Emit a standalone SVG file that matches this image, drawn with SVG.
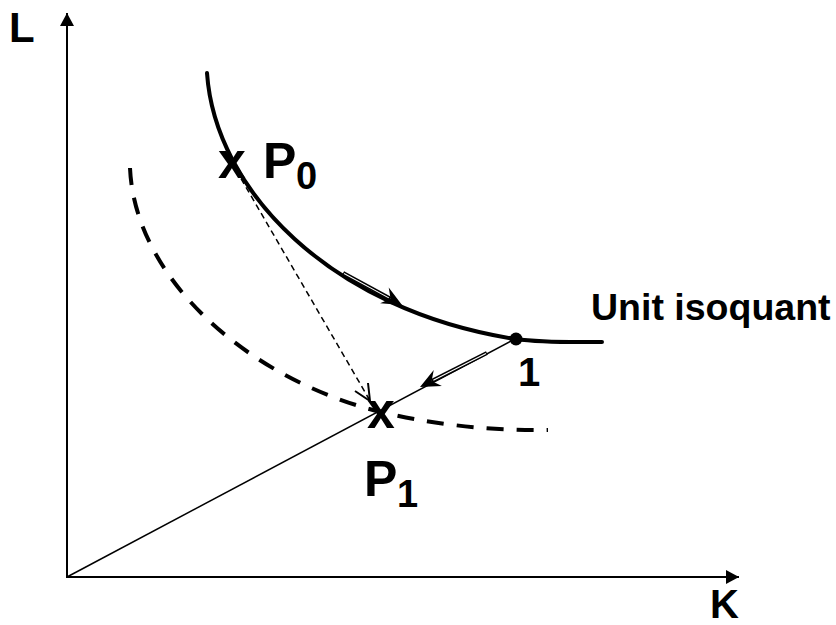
<svg xmlns="http://www.w3.org/2000/svg" width="836" height="625" viewBox="0 0 836 625">
<style>
  .lbl { font-family: "Liberation Sans", Arial, sans-serif; font-weight: bold; fill: #000; }
  .axis { stroke: #000; stroke-width: 2; fill: none; }
  .curve { stroke: #000; stroke-width: 4; fill: none; stroke-linecap: round; }
  .dcurve { stroke: #000; stroke-width: 4; fill: none; stroke-dasharray: 17 13; }
  .thin { stroke: #000; stroke-width: 1.5; fill: none; }
  .dthin { stroke: #000; stroke-width: 1.5; fill: none; stroke-dasharray: 6 4; }
</style>
<defs>
  <marker id="axhead" markerWidth="14" markerHeight="14" refX="13" refY="7" orient="auto" markerUnits="userSpaceOnUse">
    <path d="M0,0 L13,7 L0,14 Z" fill="#000"/>
  </marker>
  <path id="stealth" d="M0,0 L-20,-9 L-13,0 L-20,9 Z" fill="#000"/>
</defs>
<rect width="836" height="625" fill="#fff"/>
<g id="axes">
  <line class="axis" x1="67" y1="577" x2="67" y2="13" marker-end="url(#axhead)"/>
  <line class="axis" x1="66" y1="577" x2="739" y2="577" marker-end="url(#axhead)"/>
  <text class="lbl" x="9" y="42" font-size="42">L</text>
  <text class="lbl" x="710" y="618" font-size="40">K</text>
</g>
<g id="unit-isoquant">
  <path class="curve" d="M207,73 C215,190 330,310 515,339 C545,343 575,342 602,342"/>
  <text class="lbl" x="591" y="320" font-size="37.5">Unit isoquant</text>
</g>
<g id="isoquant-dashed">
  <path class="dcurve" d="M130,168 C135,280 250,380 381,412 C430,424 490,431 548,430"/>
</g>
<g id="connectors">
  <line class="thin" x1="67" y1="577" x2="515" y2="339"/>
  <line class="dthin" x1="236" y1="170" x2="369" y2="399"/>
  <path d="M355,391 L370,401 L368,383" stroke="#000" stroke-width="2" fill="none"/>
  <g transform="translate(402,305) rotate(28.5)">
    <line x1="-67" y1="0" x2="-13" y2="0" stroke="#000" stroke-width="4"/>
    <line x1="-66" y1="0" x2="-15" y2="0" stroke="#fff" stroke-width="1"/>
    <use href="#stealth"/>
  </g>
  <g transform="translate(420,387) rotate(153.1)">
    <line x1="-75" y1="0" x2="-13" y2="0" stroke="#000" stroke-width="4"/>
    <line x1="-74" y1="0" x2="-15" y2="0" stroke="#fff" stroke-width="1"/>
    <use href="#stealth"/>
  </g>
</g>
<g id="point-1">
  <circle cx="516" cy="339" r="6.5" fill="#000"/>
  <text class="lbl" x="518" y="386" font-size="40">1</text>
</g>
<g id="P0">
  <text class="lbl" x="232" y="178" font-size="50" text-anchor="middle">x</text>
  <text class="lbl" x="263" y="178" font-size="50">P</text>
  <text class="lbl" x="296" y="189" font-size="38">0</text>
</g>
<g id="P1">
  <text class="lbl" x="381" y="428" font-size="50" text-anchor="middle">x</text>
  <text class="lbl" x="364" y="496" font-size="50">P</text>
  <text class="lbl" x="397" y="507" font-size="38">1</text>
</g>
</svg>
